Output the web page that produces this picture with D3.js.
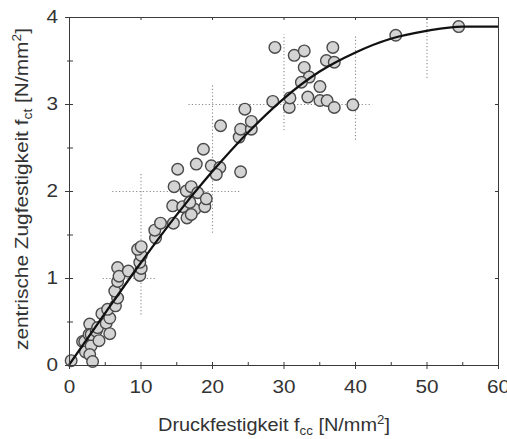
<!DOCTYPE html>
<html>
<head>
<meta charset="utf-8">
<script src="https://cdn.jsdelivr.net/npm/d3@7"></script>
<style>
  html, body { margin: 0; padding: 0; background: #fff; }
  svg { display: block; font-family: "Liberation Sans", Arial, sans-serif; }
</style>
</head>
<body>
<svg id="chart" width="507" height="439"></svg>
<script>
// Measured specimens: compressive strength fcc vs. centric tensile strength fct [N/mm²]
const fccValues = [
  0.3, 1.9, 2.2, 2.3, 2.9, 2.8, 3.1, 3.1, 2.9, 3.3, 3.8, 4.0, 4.2, 4.6, 5.2, 5.7, 5.4, 5.7,
  6.5, 6.8, 6.4, 6.8, 6.8, 7.0, 8.3, 9.9, 10.1, 9.9, 10.1, 9.6, 10.1, 12.1, 12.0, 12.8, 14.6,
  16.5, 14.5, 15.9, 17.6, 17.1, 19.0, 16.9, 14.7, 16.4, 17.1, 18.0, 19.2, 15.2, 17.8, 19.9,
  21.1, 20.6, 24.0, 18.8, 21.2, 23.8, 24.0, 25.5, 25.5, 24.6, 28.5, 30.8, 30.9, 28.8, 31.5,
  32.9, 36.9, 36.0, 37.1, 32.9, 33.6, 32.5, 35.1, 33.4, 35.1, 36.1, 37.1, 39.7, 45.7, 54.5
];
const fctValues = [
  0.05, 0.27, 0.27, 0.15, 0.47, 0.35, 0.22, 0.35, 0.12, 0.04, 0.39, 0.43, 0.28, 0.59, 0.48, 0.54, 0.64, 0.36,
  0.68, 0.77, 0.85, 0.96, 1.12, 1.02, 1.08, 1.03, 1.11, 1.18, 1.26, 1.33, 1.36, 1.46, 1.55, 1.63, 1.63,
  1.69, 1.83, 1.82, 1.79, 1.73, 1.82, 1.87, 2.05, 2.00, 2.05, 1.98, 1.91, 2.25, 2.31, 2.29,
  2.27, 2.19, 2.22, 2.48, 2.75, 2.62, 2.71, 2.71, 2.80, 2.94, 3.03, 2.96, 3.07, 3.65, 3.56,
  3.61, 3.65, 3.50, 3.48, 3.42, 3.31, 3.25, 3.20, 3.08, 3.04, 3.04, 2.96, 2.99, 3.79, 3.89
];

// Fitted relation fct(fcc)
const trendFcc = [0, 5, 10, 15, 20, 25, 30, 35, 40, 45, 50, 55, 60];
const trendFct = [0, 0.59, 1.17, 1.72, 2.22, 2.67, 3.06, 3.37, 3.59, 3.75, 3.84, 3.89, 3.89];

// Scatter ranges drawn as dotted crosses
const spreadRows = [          // [fct level, fcc from, fcc to]
  [1, 4.7, 12.3],
  [2, 6.05, 24.0],
  [3, 16.7, 42.4]
];
const spreadColumns = [       // [fcc level, fct from, fct to]
  [10, 0.58, 2.21],
  [20, 1.52, 3.22],
  [30, 2.70, 3.80],
  [40, 2.59, 3.80],
  [50, 3.30, 4.00]
];

const xTicks = [0, 10, 20, 30, 40, 50, 60];
const yTicks = [0, 1, 2, 3, 4];
const xMinor = [5, 15, 25, 35, 45, 55];
const yMinor = [0.5, 1.5, 2.5, 3.5];

const svg = d3.select("#chart");
const x = d3.scaleLinear().domain([0, 60]).range([69, 498]);
const y = d3.scaleLinear().domain([0, 4]).range([365, 17]);
const axisColor = "#3a3a3a";
const textColor = "#333";
const labelSize = 18;
const widen = 1.15;   // the lettering is set slightly wide

// dotted spread crosses
const spreads = svg.append("g")
  .attr("stroke", "#8a8a8a").attr("stroke-width", 1.1)
  .attr("stroke-dasharray", "1.2,2.2").attr("fill", "none");
spreads.selectAll("line.row").data(spreadRows).join("line")
  .attr("class", "row")
  .attr("x1", d => x(d[1])).attr("x2", d => x(d[2]))
  .attr("y1", d => y(d[0]) + 0.5).attr("y2", d => y(d[0]) + 0.5);
spreads.selectAll("line.col").data(spreadColumns).join("line")
  .attr("class", "col")
  .attr("x1", d => x(d[0]) + 0.5).attr("x2", d => x(d[0]) + 0.5)
  .attr("y1", d => y(d[1])).attr("y2", d => y(d[2]));

// specimens
const points = fccValues.map((v, i) => ({ fcc: v, fct: fctValues[i] }));
svg.append("g").selectAll("circle").data(points).join("circle")
  .attr("cx", d => x(d.fcc)).attr("cy", d => y(d.fct))
  .attr("r", 5.8)
  .attr("fill", "#d4d4d4")
  .attr("stroke", "#4a4a4a")
  .attr("stroke-width", 1.4);

// fitted curve
const trend = trendFcc.map((v, i) => [v, trendFct[i]]);
svg.append("path")
  .datum(trend)
  .attr("fill", "none")
  .attr("stroke", "#111")
  .attr("stroke-width", 2.3)
  .attr("d", d3.line().x(d => x(d[0])).y(d => y(d[1])).curve(d3.curveMonotoneX));

// stretch a text element horizontally by the lettering factor
function widenText(sel) {
  sel.each(function () {
    const len = this.getComputedTextLength();
    if (len > 0) {
      d3.select(this).attr("textLength", len * widen).attr("lengthAdjust", "spacingAndGlyphs");
    }
  });
}

// axes
function styleAxis(g) {
  g.select(".domain").attr("stroke", axisColor);
  g.selectAll(".tick line").attr("stroke", axisColor);
  g.selectAll(".tick text").attr("fill", textColor).attr("font-size", labelSize).call(widenText);
}
const fmt = d3.format("d");
svg.append("g").attr("transform", `translate(0,${y(0)})`)
  .call(d3.axisBottom(x).tickValues(xTicks).tickFormat(fmt).tickSize(4).tickPadding(11).tickSizeOuter(0))
  .call(styleAxis);
svg.append("g").attr("transform", `translate(${x(0)},0)`)
  .call(d3.axisLeft(y).tickValues(yTicks).tickFormat(fmt).tickSize(4).tickPadding(7).tickSizeOuter(0))
  .call(styleAxis);
svg.append("g").attr("transform", `translate(0,${y(4)})`)
  .call(d3.axisTop(x).tickValues(xTicks).tickSize(-3).tickFormat("").tickSizeOuter(0))
  .call(styleAxis);
svg.append("g").attr("transform", `translate(${x(60)},0)`)
  .call(d3.axisRight(y).tickValues(yTicks).tickSize(-3).tickFormat("").tickSizeOuter(0))
  .call(styleAxis);

// inner tick marks on bottom and left axes
const inner = svg.append("g").attr("stroke", axisColor).attr("stroke-width", 1);
inner.selectAll("line.xi").data(xTicks.concat(xMinor)).join("line")
  .attr("class", "xi")
  .attr("x1", d => x(d) + 0.5).attr("x2", d => x(d) + 0.5)
  .attr("y1", y(0) + 0.5).attr("y2", y(0) - 3);
inner.selectAll("line.yi").data(yTicks.concat(yMinor)).join("line")
  .attr("class", "yi")
  .attr("x1", x(0) + 0.5).attr("x2", x(0) + 4)
  .attr("y1", d => y(d) + 0.5).attr("y2", d => y(d) + 0.5);
inner.selectAll("line.ym").data(yMinor).join("line")
  .attr("class", "ym")
  .attr("x1", x(0) - 2).attr("x2", x(0) + 0.5)
  .attr("y1", d => y(d) + 0.5).attr("y2", d => y(d) + 0.5);

// axis titles: main text, subscript, unit with superscript
function writeTitle(text, main, sub) {
  text.append("tspan").text(main + " f");
  text.append("tspan").attr("font-size", 12).attr("dy", 4).text(sub);
  text.append("tspan").attr("dy", -4).text(" [N/mm");
  text.append("tspan").attr("font-size", 12).attr("dy", -7).text("2");
  text.append("tspan").attr("dy", 7).text("]");
}

const xTitle = svg.append("text")
  .attr("x", 274).attr("y", 431)
  .attr("text-anchor", "middle").attr("font-size", labelSize).attr("fill", textColor);
writeTitle(xTitle, "Druckfestigkeit", "cc");
xTitle.attr("textLength", 232).attr("lengthAdjust", "spacingAndGlyphs");

const yTitle = svg.append("text")
  .attr("transform", `translate(28,${(y(0) + y(4)) / 2 - 2}) rotate(-90)`)
  .attr("text-anchor", "middle").attr("font-size", labelSize).attr("fill", textColor);
writeTitle(yTitle, "zentrische Zugfestigkeit", "ct");
yTitle.attr("textLength", 322).attr("lengthAdjust", "spacingAndGlyphs");
</script>
</body>
</html>
